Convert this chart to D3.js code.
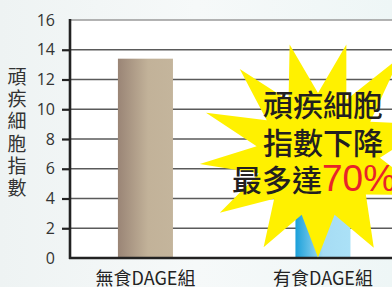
<!DOCTYPE html>
<html>
<head>
<meta charset="utf-8">
<script src="https://cdn.jsdelivr.net/npm/d3@7"></script>
<style>
html,body{margin:0;padding:0;overflow:hidden;}
svg{display:block;}
</style>
</head>
<body>
<svg id="chart" width="392" height="287"></svg>
<script>
// ---- data ----
const categories = ["無食DAGE組", "有食DAGE組"];
const values = [13.4, 4.0];
const yTicks = [0, 2, 4, 6, 8, 10, 12, 14, 16];
const yTitleChars = ["頑", "疾", "細", "胞", "指", "數"];
const calloutLines = ["頑疾細胞", "指數下降", "最多達"];
const calloutHighlight = "70%";
// starburst decoration (angles in degrees, radii as fractions)
const starAngles = [-104.4, -75.6, -50, -15, 20, 59, 90, 120.5, 149.5, 175.7, -159.3, -132.3];
const starRadii = [1.0, 1.0, 1.12, 1.03, 1.03, 0.95, 0.9, 0.94, 1.0, 1.04, 1.05, 1.02];

const W = 392, H = 287;
const svg = d3.select("#chart");
const defs = svg.append("defs");

// background
const bg = defs.append("linearGradient").attr("id", "bg").attr("x1", 0).attr("x2", 1).attr("y1", 0).attr("y2", 0);
bg.append("stop").attr("offset", 0).attr("stop-color", "#eef3f3");
bg.append("stop").attr("offset", 0.5).attr("stop-color", "#f6f9f9");
bg.append("stop").attr("offset", 1).attr("stop-color", "#eef6f6");
svg.append("rect").attr("width", W).attr("height", H).attr("fill", "url(#bg)");

const y = d3.scaleLinear().domain([0, 16]).range([258, 20]);
const x = d3.scaleBand().domain(categories).range([70, 398.4]).paddingInner(0.69).paddingOuter(0.27);

// plot area
svg.append("rect").attr("x", 70).attr("y", y(16)).attr("width", W - 70).attr("height", y(0) - y(16)).attr("fill", "#ffffff");

// gridlines
svg.append("g").selectAll("line").data(yTicks.filter(d => d > 0)).join("line")
  .attr("x1", 70).attr("x2", W)
  .attr("y1", d => y(d)).attr("y2", d => y(d))
  .attr("stroke", d => d === 16 ? "#9a9a9a" : "#5a5a5a")
  .attr("stroke-width", 1.4);

// bar gradients
const g1 = defs.append("linearGradient").attr("id", "bar0");
g1.append("stop").attr("offset", 0).attr("stop-color", "#9a8576");
g1.append("stop").attr("offset", 0.55).attr("stop-color", "#c2b299");
g1.append("stop").attr("offset", 1).attr("stop-color", "#c4b59c");
const g2 = defs.append("linearGradient").attr("id", "bar1");
g2.append("stop").attr("offset", 0).attr("stop-color", "#1aa0da");
g2.append("stop").attr("offset", 0.5).attr("stop-color", "#a6dcf4");
g2.append("stop").attr("offset", 1).attr("stop-color", "#abe1f7");

svg.append("g").selectAll("rect").data(values).join("rect")
  .attr("x", (d, i) => x(categories[i]))
  .attr("width", x.bandwidth())
  .attr("y", d => y(d))
  .attr("height", d => y(0) - y(d))
  .attr("fill", (d, i) => `url(#bar${i})`);

// baseline
svg.append("line").attr("x1", 69).attr("x2", W).attr("y1", y(0)).attr("y2", y(0))
  .attr("stroke", "#222").attr("stroke-width", 2.6);

// y axis
const yAxis = d3.axisLeft(y).tickValues(yTicks).tickSize(8).tickPadding(7).tickFormat(d3.format("d"));
const ya = svg.append("g").attr("transform", "translate(70,0)").call(yAxis);
ya.select(".domain").remove();
ya.selectAll(".tick line").attr("stroke", "#222").attr("stroke-width", 2.2)
  .attr("display", d => (d === 0 || d === 16) ? "none" : null);
ya.selectAll(".tick text").attr("fill", "#333").style("font-family", "'Open Sans', 'Liberation Sans', sans-serif").style("font-size", "16px");
svg.append("line").attr("x1", 70).attr("x2", 70).attr("y1", y(16) - 1).attr("y2", y(0) + 1)
  .attr("stroke", "#222").attr("stroke-width", 2.6);

// y title (vertical stacked)
svg.append("g").selectAll("text").data(yTitleChars).join("text")
  .attr("x", 17).attr("y", (d, i) => 84 + i * 22.2)
  .attr("text-anchor", "middle")
  .attr("fill", "#333")
  .style("font-family", "'Noto Sans CJK TC', sans-serif").style("font-size", "19px")
  .text(d => d);

// category labels
svg.append("g").selectAll("text").data(categories).join("text")
  .attr("x", d => x(d) + x.bandwidth() / 2).attr("y", 285)
  .attr("text-anchor", "middle").attr("fill", "#222")
  .style("font-family", "'Noto Sans CJK TC', sans-serif").style("font-size", "18px")
  .text(d => d);

// starburst
const cx = 318, cy = 155, R = 114, r = 62;
const pts = [];
starAngles.forEach((a, i) => {
  const next = starAngles[(i + 1) % starAngles.length];
  let diff = next - a; if (diff < 0) diff += 360;
  const ra = a * Math.PI / 180;
  pts.push([cx + Math.cos(ra) * R * starRadii[i], cy + Math.sin(ra) * R * starRadii[i]]);
  const ma = (a + diff / 2) * Math.PI / 180;
  pts.push([cx + Math.cos(ma) * r, cy + Math.sin(ma) * r]);
});
svg.append("path").attr("d", d3.line()(pts) + "Z").attr("fill", "#fff100");

// callout text
const tg = svg.append("g").style("font-family", "'Noto Sans CJK TC', sans-serif").style("font-weight", "500");
tg.append("text").attr("x", 263).attr("y", 116).attr("fill", "#231f20").style("font-size", "30px").text(calloutLines[0]);
tg.append("text").attr("x", 263).attr("y", 154).attr("fill", "#231f20").style("font-size", "30px").text(calloutLines[1]);
const t3 = tg.append("text").attr("x", 232).attr("y", 191).attr("fill", "#231f20").style("font-size", "30px");
t3.append("tspan").text(calloutLines[2]);
t3.append("tspan").attr("fill", "#e8232a").style("font-weight", "normal")
  .style("font-family", "'Liberation Sans', Arial, sans-serif").style("font-size", "37px").text(calloutHighlight);
</script>
</body>
</html>
